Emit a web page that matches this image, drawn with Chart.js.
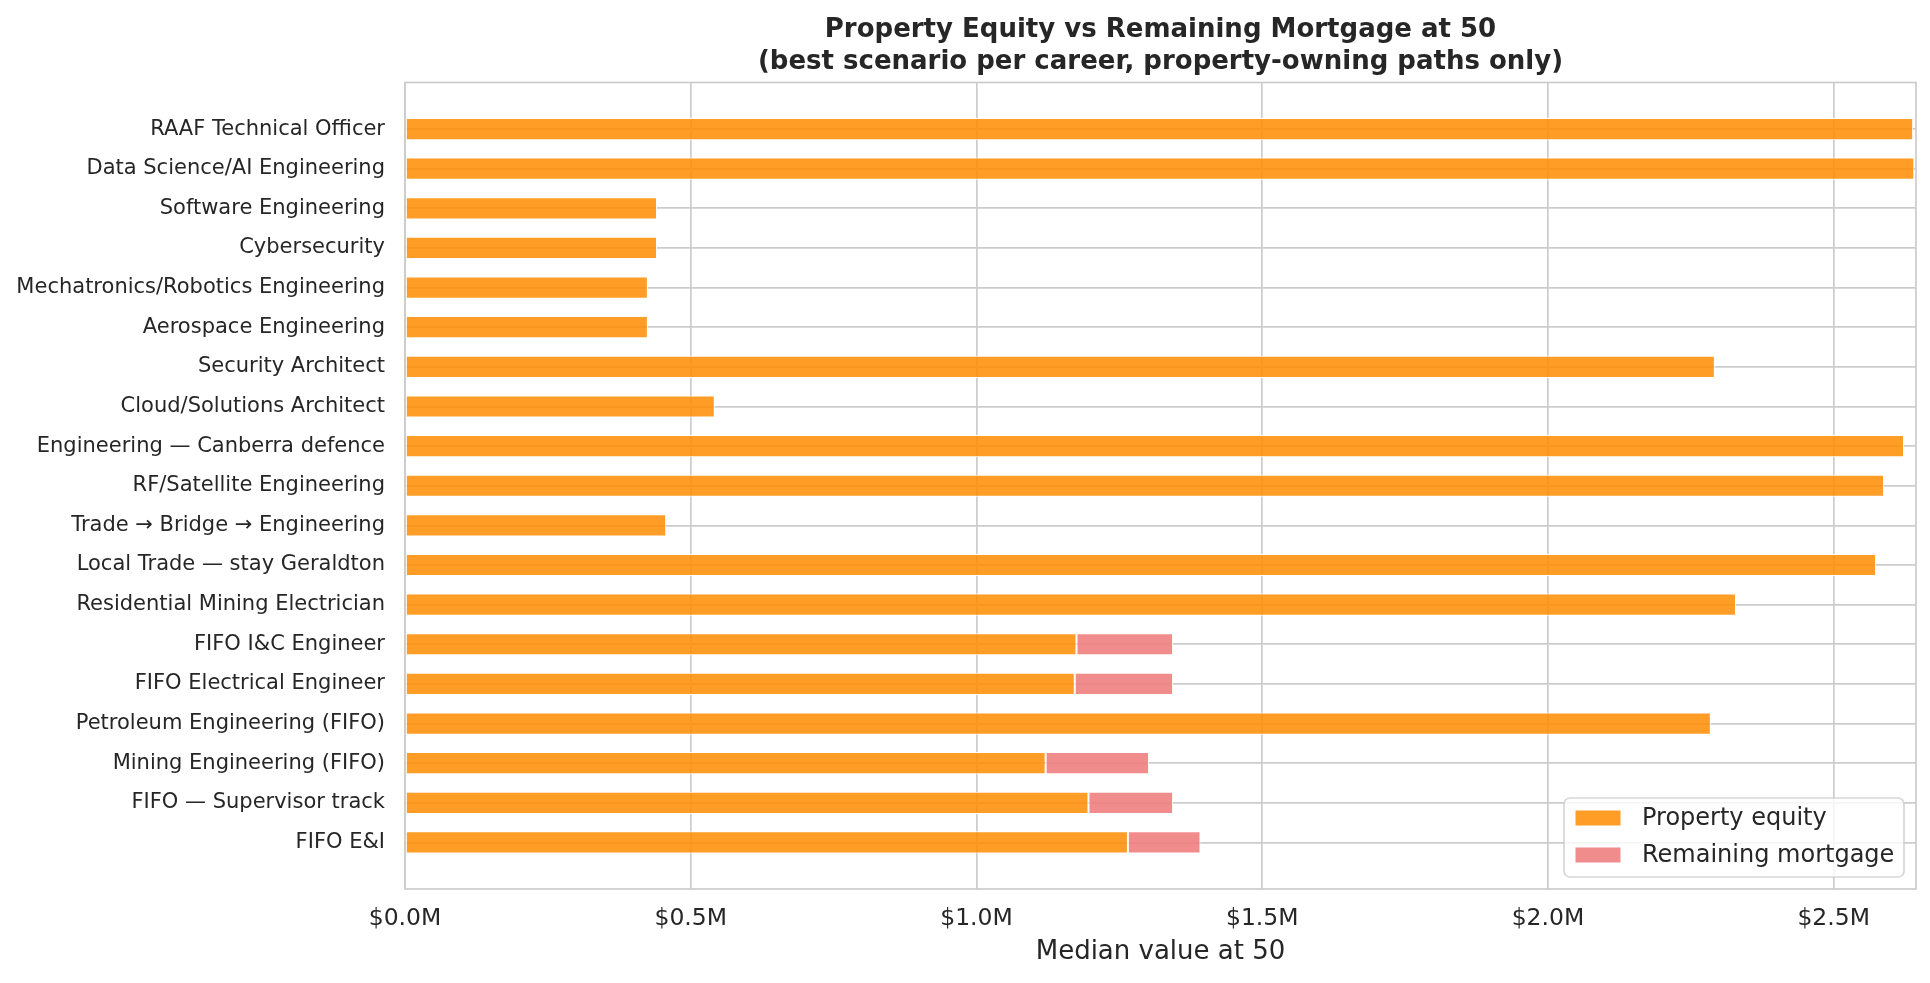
<!DOCTYPE html>
<html>
<head>
<meta charset="utf-8">
<title>Property Equity vs Remaining Mortgage at 50</title>
<script src="https://cdn.jsdelivr.net/npm/chart.js@4.4.1/dist/chart.umd.min.js"></script>
<style>
  html, body { margin: 0; padding: 0; background: #ffffff; }
  #wrap { width: 1930px; height: 983px; position: relative; }
</style>
</head>
<body>
<div id="wrap"><canvas id="equity"></canvas></div>
<script>
// careers, top to bottom as drawn
const careers = [
    'RAAF Technical Officer',
    'Data Science/AI Engineering',
    'Software Engineering',
    'Cybersecurity',
    'Mechatronics/Robotics Engineering',
    'Aerospace Engineering',
    'Security Architect',
    'Cloud/Solutions Architect',
    'Engineering \u2014 Canberra defence',
    'RF/Satellite Engineering',
    'Trade \u2192 Bridge \u2192 Engineering',
    'Local Trade \u2014 stay Geraldton',
    'Residential Mining Electrician',
    'FIFO I&C Engineer',
    'FIFO Electrical Engineer',
    'Petroleum Engineering (FIFO)',
    'Mining Engineering (FIFO)',
    'FIFO \u2014 Supervisor track',
    'FIFO E&I'
];

// median values at 50, $M
const equity = [2.639, 2.641, 0.441, 0.441, 0.425, 0.425, 2.292, 0.542, 2.623, 2.588,
    0.457, 2.574, 2.329, 1.175, 1.172, 2.285, 1.121, 1.196, 1.265];
const mortgage = [null, null, null, null, null, null, null, null, null, null,
    null, null, null, 0.169, 0.172, null, 0.181, 0.148, 0.127];

const xTicks = [0, 0.5, 1.0, 1.5, 2.0, 2.5];

const textColor = '#262626';
const gridColor = '#cccccc';
const font = 'DejaVu Sans';

// full box round the plot, like the matplotlib spines
const frame = {
    id: 'frame',
    beforeDatasetsDraw(chart) {
        const a = chart.chartArea;
        const ctx = chart.ctx;
        ctx.save();
        ctx.strokeStyle = gridColor;
        ctx.lineWidth = 1.7;
        ctx.strokeRect(a.left, a.top, a.right - a.left, a.bottom - a.top);
        ctx.restore();
    }
};

// legend inside the plot, lower right
const innerLegend = {
    id: 'innerLegend',
    afterDraw(chart) {
        const a = chart.chartArea;
        const ctx = chart.ctx;
        const w = 340, h = 79;
        const x = a.right - 12 - w;
        const y = a.bottom - 12 - h;
        ctx.save();
        ctx.beginPath();
        ctx.roundRect(x, y, w, h, 6);
        ctx.fillStyle = 'rgba(255,255,255,0.8)';
        ctx.fill();
        ctx.strokeStyle = 'rgba(204,204,204,0.8)';
        ctx.lineWidth = 1.7;
        ctx.stroke();
        ctx.font = '24px "' + font + '"';
        ctx.textBaseline = 'middle';
        chart.data.datasets.forEach((ds, i) => {
            const cy = y + 20 + i * 37;
            ctx.fillStyle = ds.backgroundColor;
            ctx.fillRect(x + 11, cy - 8, 46, 16);
            ctx.strokeStyle = '#ffffff';
            ctx.lineWidth = 1;
            ctx.strokeRect(x + 11, cy - 8, 46, 16);
            ctx.fillStyle = textColor;
            ctx.fillText(ds.label, x + 78, cy + 1);
        });
        ctx.restore();
    }
};

const ctx1 = document.getElementById('equity');

new Chart(ctx1, {
    type: 'bar',
    data: {
        datasets: [{
            label: 'Property equity',
            data: equity.map((v, i) => ({ x: v, y: i })),
            backgroundColor: 'rgba(255,140,0,0.85)',
            borderColor: '#ffffff',
            borderWidth: 1,
            borderSkipped: false,
            categoryPercentage: 0.56,
            barPercentage: 1
        }, {
            label: 'Remaining mortgage',
            data: mortgage.map((v, i) => ({ x: v, y: i })),
            backgroundColor: 'rgba(240,128,128,0.9)',
            borderColor: '#ffffff',
            borderWidth: 1,
            borderSkipped: false,
            categoryPercentage: 0.56,
            barPercentage: 1
        }]
    },
    options: {
        indexAxis: 'y',
        responsive: true,
        maintainAspectRatio: false,
        animation: false,
        layout: { padding: { left: 15, right: 14, top: 0, bottom: 0 } },
        scales: {
            x: {
                type: 'linear',
                stacked: true,
                min: 0,
                max: 2.644,
                afterFit: (s) => { s.height = 94; },
                afterBuildTicks: (s) => { s.ticks = xTicks.map(v => ({ value: v })); },
                ticks: {
                    stepSize: 0.5,
                    includeBounds: false,
                    padding: 16,
                    color: textColor,
                    font: { family: font, size: 23.5 },
                    callback: (v) => '$' + Number(v).toFixed(1) + 'M'
                },
                grid: { color: gridColor, lineWidth: 1.7, drawTicks: false },
                border: { display: false },
                title: {
                    display: true,
                    text: 'Median value at 50',
                    color: textColor,
                    font: { family: font, size: 26 },
                    padding: { top: 0, bottom: 15 }
                }
            },
            y: {
                type: 'linear',
                stacked: true,
                reverse: true,
                offset: false,
                min: -1.175,
                max: careers.length - 1 + 1.175,
                afterFit: (s) => { s.width = 390; },
                afterBuildTicks: (s) => { s.ticks = careers.map((c, i) => ({ value: i })); },
                ticks: {
                    stepSize: 1,
                    autoSkip: false,
                    padding: 20,
                    color: textColor,
                    font: { family: font, size: 21 },
                    callback: (v) => careers[v]
                },
                grid: { color: gridColor, lineWidth: 1.7, drawTicks: false, offset: false },
                border: { display: false }
            }
        },
        plugins: {
            legend: { display: false },
            tooltip: { enabled: false },
            title: {
                display: true,
                fullSize: false,
                text: ['Property Equity vs Remaining Mortgage at 50',
                       '(best scenario per career, property-owning paths only)'],
                color: textColor,
                font: { family: font, size: 26, weight: 'bold', lineHeight: 1.24 },
                padding: { top: 14, bottom: 4 }
            }
        }
    },
    plugins: [frame, innerLegend]
});
</script>
</body>
</html>
